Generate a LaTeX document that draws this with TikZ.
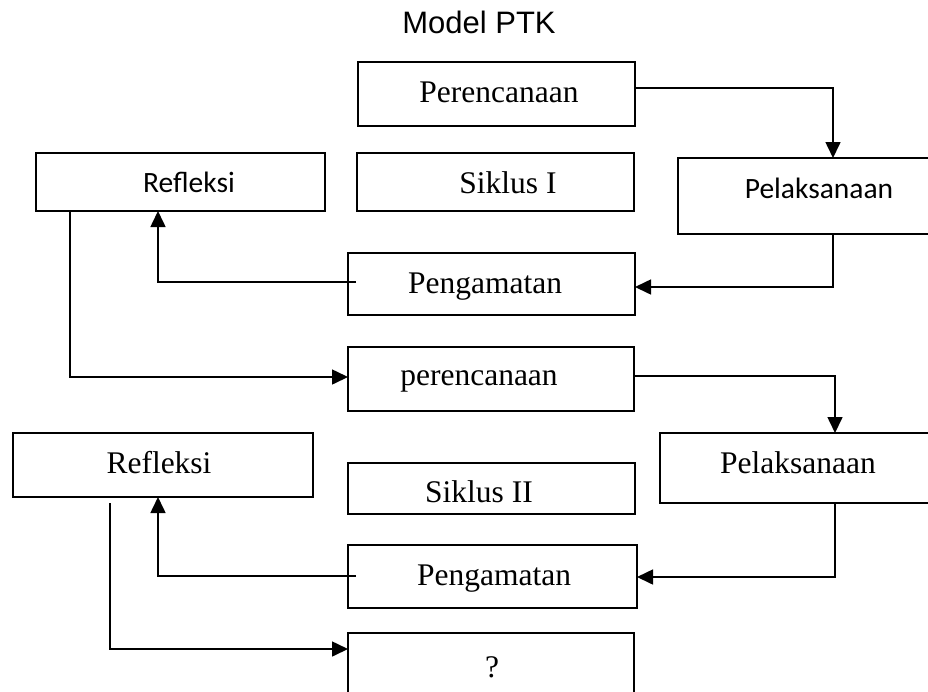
\documentclass[tikz,border=0pt]{standalone}
\usepackage{fontspec}
\setmainfont{Liberation Serif}
\newfontfamily\calib{Carlito}
\newfontfamily\arialf{Liberation Sans}
\usetikzlibrary{arrows.meta,calc}
\tikzset{
  box/.style={draw=black,line width=1.7pt,rectangle,inner sep=0pt,outer sep=0pt},
  serif/.style={font=\fontsize{31.5}{36}\selectfont,anchor=base,inner sep=0pt},
  sans/.style={font=\calib\fontsize{29.5}{34}\selectfont,anchor=base,inner sep=0pt},
  conn/.style={draw=black,line width=1.6pt,-{Triangle[length=16pt,width=15pt]}},
  plain/.style={draw=black,line width=1.6pt}
}
\newcommand{\boxat}[5]{\node[box,minimum width={(#4-#2)*1pt},minimum height={(#5-#3)*1pt}] (#1) at ({(#2+#4)/2},{(#3+#5)/2}) {};}
\begin{document}
\begin{tikzpicture}[x=1pt,y=-1pt]
\useasboundingbox (0,0) rectangle (928,691);
\clip (0,0) rectangle (928,691);
% title
\node[font=\arialf\fontsize{31}{36}\selectfont,anchor=base,inner sep=0pt] (title) at (479,33) {Model PTK};
% boxes
\boxat{per1}{358}{62}{635}{126}
\boxat{ref1}{36}{153}{325}{211}
\boxat{sik1}{357}{153}{634}{211}
\boxat{pel1}{678}{158}{940}{234}
\boxat{pen1}{348}{253}{635}{315}
\boxat{per2}{348}{347}{634}{411}
\boxat{ref2}{13}{433}{313}{497}
\boxat{pel2}{660}{433}{940}{503}
\boxat{sik2}{348}{463}{635}{514}
\boxat{pen2}{348}{545}{637}{608}
\boxat{qq}{348}{633}{634}{720}
% texts
\node[serif] (tper1) at (499,102) {Perencanaan};
\node[sans]  (tref1) at (189,192) {Refleksi};
\node[serif] (tsik1) at (508,193) {Siklus I};
\node[sans]  (tpel1) at (819,198) {Pelaksanaan};
\node[serif] (tpen1) at (485,293) {Pengamatan};
\node[serif] (tper2) at (479,385) {perencanaan};
\node[serif] (tref2) at (159,473) {Refleksi};
\node[serif] (tpel2) at (798,473) {Pelaksanaan};
\node[serif] (tsik2) at (479,502) {Siklus II};
\node[serif] (tpen2) at (494,585) {Pengamatan};
\node[serif] (tqq)   at (492,677) {?};
% connectors
\draw[conn] (per1.east |- 0,88) -- (833,88) -- (pel1.north -| 833,0);
\draw[conn] (pel1.south -| 833,0) -- (833,287) -- (pen1.east |- 0,287);
\draw[plain] ($(pen1.west |- 0,282)+(8,0)$) -- (pen1.west |- 0,282);
\draw[conn] (pen1.west |- 0,282) -- (158,282) -- (ref1.south -| 158,0);
\draw[conn] (ref1.south -| 70,0) -- (70,377) -- (per2.west |- 0,377);
\draw[conn] (per2.east |- 0,376) -- (835,376) -- (pel2.north -| 835,0);
\draw[conn] (pel2.south -| 835,0) -- (835,577) -- (pen2.east |- 0,577);
\draw[plain] ($(pen2.west |- 0,576)+(8,0)$) -- (pen2.west |- 0,576);
\draw[conn] (pen2.west |- 0,576) -- (158,576) -- (ref2.south -| 158,0);
\coordinate (r2start) at ($(ref2.south -| 110,0)+(0,6)$);
\draw[conn] (r2start) -- (110,649) -- (qq.west |- 0,649);
\end{tikzpicture}
\end{document}
